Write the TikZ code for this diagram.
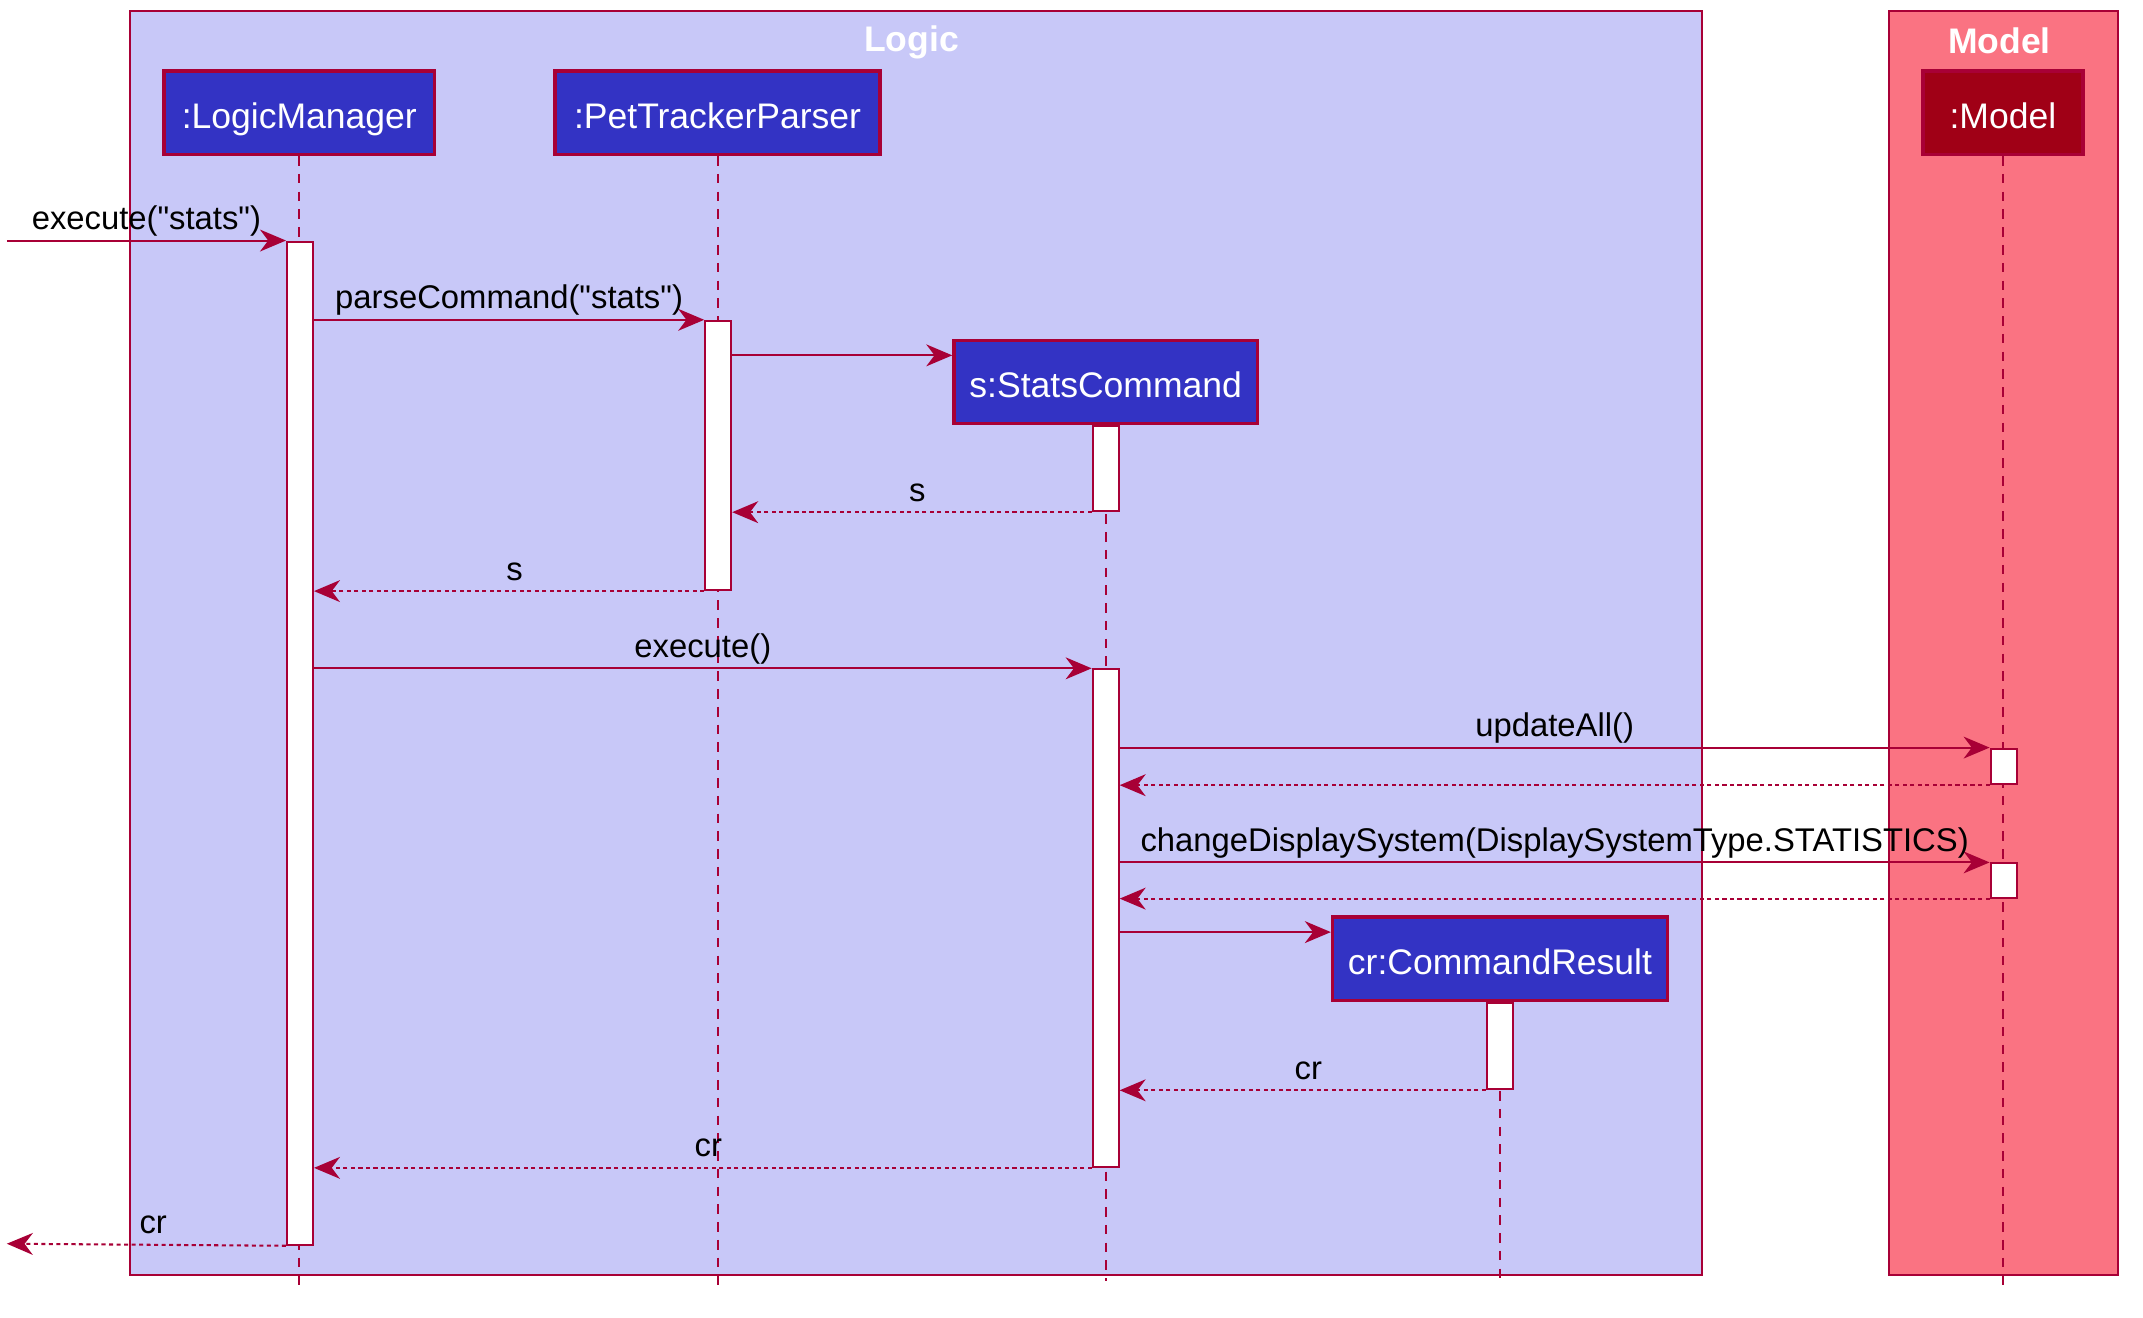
\documentclass[tikz,border=0pt]{standalone}
\usepackage{fontspec}
\setmainfont{Liberation Sans}
\usetikzlibrary{arrows.meta,positioning}
\definecolor{crimson}{RGB}{168, 0, 54}
\definecolor{lavender}{RGB}{200, 200, 248}
\definecolor{salmon}{RGB}{250, 115, 130}
\definecolor{indigo}{RGB}{51, 51, 196}
\definecolor{maroon}{RGB}{160, 0, 22}
\tikzset{lane/.style={draw=crimson,line width=1.5pt}}
\tikzset{lanetitle/.style={text=white,inner sep=0pt,font=\bfseries\fontsize{26}{31}\selectfont}}
\tikzset{actor/.style={draw=crimson,fill=indigo,line width=2.5pt,text=white,minimum height=61pt,inner sep=0pt,text height=25pt,text depth=2pt,font=\fontsize{26}{31}\selectfont}}
\tikzset{lifeline/.style={crimson,line width=1.5pt,dash pattern=on 7pt off 6pt}}
\tikzset{activation/.style={draw=crimson,fill=white,line width=1.5pt,minimum width=19pt,inner sep=0pt,anchor=north}}
\tikzset{call/.style={-{Stealth[length=19pt,width=16pt,inset=6pt]},crimson,line width=1.5pt}}
\tikzset{reply/.style={call,dash pattern=on 3pt off 2.5pt}}
\tikzset{msglabel/.style={midway,anchor=base,yshift=8pt,inner sep=0pt,text=black,font=\fontsize{24}{29}\selectfont}}

\begin{document}
\begin{tikzpicture}[x=1pt,y=-1pt]
	\useasboundingbox (0,0) rectangle (1568,964);

	% boxes
	\draw[lane,fill=lavender] (95,8) rectangle (1245,933);
	\draw[lane,fill=salmon] (1382,8) rectangle (1550,933);
	\node[lanetitle] (logictitle) at (667,31) {Logic};
	\node[lanetitle] (modeltitle) at (1463,30) {Model};

	% participants
	\node[actor,minimum width=198pt] (lm) at (219,82.5) {:LogicManager};
	\node[actor,minimum width=238pt] (ptp) at (525,82.5) {:PetTrackerParser};
	\node[actor,minimum width=117pt,fill=maroon] (model) at (1465.5,82.5) {:Model};
	\node[actor,minimum width=222pt] (sc) at (809,279.5) {s:StatsCommand};
	\node[actor,minimum width=245pt] (cr) at (1097.5,701.5) {cr:CommandResult};

	\draw[lifeline] (lm.south) -- (lm.south |- 0,943);
	\draw[lifeline] (ptp.south) -- (ptp.south |- 0,943);
	\draw[lifeline] (model.south) -- (model.south |- 0,943);
	\draw[lifeline] (sc.south) -- (sc.south |- 0,937);
	\draw[lifeline] (cr.south) -- (cr.south |- 0,937);

	% activations
	\node[activation,minimum height=734pt] (lmact) at (219.5,176) {};
	\node[activation,minimum height=197pt] (ptpact) at (525.5,234) {};
	\node[activation,minimum height=62pt] (scact1) at (sc.south) {};
	\node[activation,minimum height=364pt] (scact2) at (809,489) {};
	\node[activation,minimum height=26pt] (modelact1) at (1466,547) {};
	\node[activation,minimum height=25pt] (modelact2) at (1466,631) {};
	\node[activation,minimum height=63pt] (cract) at (cr.south) {};

	\coordinate (caller) at (5,176);
	\coordinate (back) at (5,910);

	% messages
	\draw[call] (caller) -- node[msglabel] {execute(\textquotedbl stats\textquotedbl)} (lmact.north west);
	\draw[call] (lmact.east |- 0,234) -- node[msglabel] {parseCommand(\textquotedbl stats\textquotedbl)} (ptpact.north west);
	\draw[call] (ptpact.east |- 0,260) -- (sc.west |- 0,260);
	\draw[reply] (scact1.south west) -- node[msglabel,xshift=4pt] {s} (ptpact.east |- scact1.south west);
	\draw[reply] (ptpact.south west) -- node[msglabel,xshift=4pt] {s} (lmact.east |- ptpact.south west);
	\draw[call] (lmact.east |- scact2.north) -- node[msglabel] {execute()} (scact2.north west);
	\draw[call] (scact2.east |- modelact1.north) -- node[msglabel] {updateAll()} (modelact1.north west);
	\draw[reply] (modelact1.south west) -- (scact2.east |- modelact1.south);
	\draw[call] (scact2.east |- modelact2.north) -- node[msglabel] {changeDisplaySystem(DisplaySystemType.STATISTICS)} (modelact2.north west);
	\draw[reply] (modelact2.south west) -- (scact2.east |- modelact2.south);
	\draw[call] (scact2.east |- 0,682) -- (cr.west |- 0,682);
	\draw[reply] (cract.south west) -- node[msglabel,xshift=4pt] {cr} (scact2.east |- cract.south);
	\draw[reply] (scact2.south west) -- node[msglabel,xshift=4pt] {cr} (lmact.east |- scact2.south);
	\draw[reply] (lmact.south west) -- node[msglabel,xshift=5pt] {cr} (back);
\end{tikzpicture}
\end{document}
